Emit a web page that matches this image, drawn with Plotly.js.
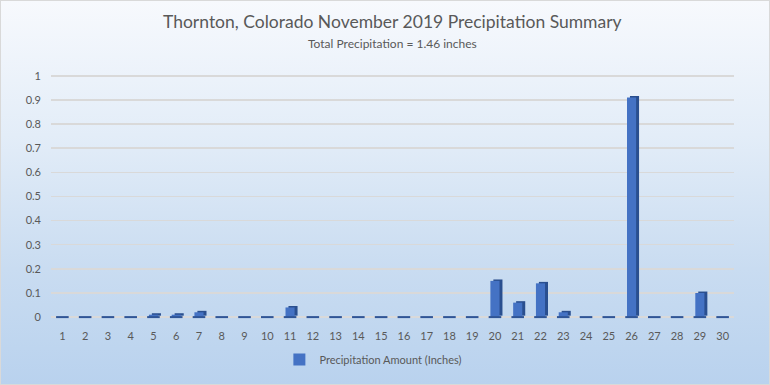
<!DOCTYPE html>
<html>
<head>
<meta charset="utf-8">
<script src="https://cdn.plot.ly/plotly-3.0.1.min.js"></script>
<style>
  html, body { margin: 0; padding: 0; }
  #chart {
    width: 770px; height: 385px; box-sizing: border-box;
    border: 1px solid #d9d9d9;
    background: linear-gradient(to bottom, #f7f9fd 0%, #e3edf8 35%, #c9dcf1 70%, #b9d2ee 100%);
  }
</style>
</head>
<body>
<div id="chart"></div>
<script>
const days = ["1","2","3","4","5","6","7","8","9","10","11","12","13","14","15","16","17","18","19","20","21","22","23","24","25","26","27","28","29","30"];
const precip = [0,0,0,0,0.01,0.01,0.02,0,0,0,0.04,0,0,0,0,0,0,0,0,0.15,0.06,0.14,0.02,0,0,0.91,0,0,0.10,0];
const yTicks = [0,0.1,0.2,0.3,0.4,0.5,0.6,0.7,0.8,0.9,1];
const yTickText = ["0","0.1","0.2","0.3","0.4","0.5","0.6","0.7","0.8","0.9","1"];
const seriesName = "Precipitation Amount (Inches)";
const titleText = "Thornton, Colorado November 2019 Precipitation Summary";
const subtitleText = "Total Precipitation = 1.46 inches";

const font = "Lato, 'Open Sans', sans-serif";

const floor = {
  type: "scatter", mode: "markers", x: days, y: days.map(() => 0),
  marker: { symbol: "line-ew", size: 9, line: { width: 2, color: "#2f5597" } },
  showlegend: false, hoverinfo: "skip"
};
const side = {
  type: "bar", x: days, y: precip, base: 0.006,
  width: 0.4, offset: -0.07,
  marker: { color: "#2a4f8f" },
  showlegend: false, hoverinfo: "skip"
};
const front = {
  type: "bar", x: days, y: precip, name: seriesName,
  width: 0.4, offset: -0.2,
  marker: { color: "#4472c4" }
};

const layout = {
  width: 770, height: 385,
  paper_bgcolor: "rgba(0,0,0,0)", plot_bgcolor: "rgba(0,0,0,0)",
  margin: { l: 50, r: 37, t: 70, b: 63 },
  font: { family: font, color: "#595959", size: 11 },
  barmode: "overlay",
  annotations: [
    { text: titleText, xref: "paper", yref: "paper", x: 0.5, y: 1.198,
      xanchor: "center", yanchor: "middle", showarrow: false,
      font: { size: 17.5, color: "#595959", family: font } },
    { text: subtitleText, xref: "paper", yref: "paper", x: 0.5, y: 1.111,
      xanchor: "center", yanchor: "middle", showarrow: false,
      font: { size: 12, color: "#595959", family: font } }
  ],
  xaxis: {
    type: "category", range: [-0.5, 29.5],
    showgrid: false, zeroline: false, showline: false, ticks: "",
    ticklabelstandoff: 8,
    tickfont: { size: 11, color: "#595959" }
  },
  yaxis: {
    range: [-0.012, 1.02], tickvals: yTicks, ticktext: yTickText,
    showgrid: true, gridcolor: "#d9d9d9", gridwidth: 1.5,
    zeroline: false, showline: false, ticks: "",
    ticklabelstandoff: 9,
    tickfont: { size: 11, color: "#595959" }
  },
  legend: {
    orientation: "h", x: 0.472, xanchor: "center", y: -0.159, yanchor: "middle",
    font: { size: 11, color: "#595959" }, bgcolor: "rgba(0,0,0,0)"
  },
  showlegend: true
};

Plotly.newPlot("chart", [floor, side, front], layout, { displayModeBar: false, staticPlot: true });
</script>
</body>
</html>
